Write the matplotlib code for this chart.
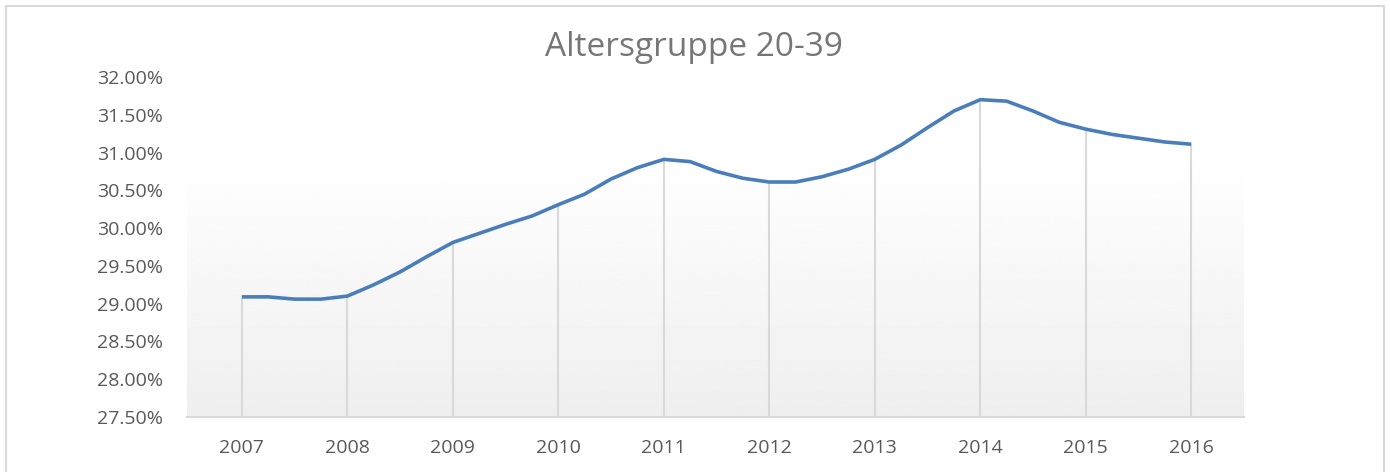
import numpy as np
import matplotlib
matplotlib.use("Agg")
import matplotlib.pyplot as plt
from matplotlib.patches import Rectangle
from matplotlib.ticker import FuncFormatter

# quarterly values (percent)
quarters = np.arange(2007.0, 2016.01, 0.25)
share = [29.09, 29.09, 29.06, 29.06,
         29.10, 29.25, 29.42, 29.62,
         29.81, 29.93, 30.05, 30.16,
         30.31, 30.45, 30.65, 30.80,
         30.91, 30.88, 30.75, 30.66,
         30.61, 30.61, 30.68, 30.78,
         30.91, 31.10, 31.33, 31.55,
         31.70, 31.68, 31.55, 31.40,
         31.31, 31.24, 31.19, 31.14,
         31.11]
years = list(range(2007, 2017))
title = "Altersgruppe 20-39"

plt.rcParams['font.family'] = ['Open Sans', 'DejaVu Sans']

W, H = 1390, 472
fig = plt.figure(figsize=(W / 100, H / 100), dpi=100)
ax = fig.add_axes([187 / W, 1 - 417 / H, (1244 - 187) / W, (417 - 77) / H])

ax.set_xlim(2006.48, 2016.5)
ax.set_ylim(27.5, 32.0)

# gradient backdrop below the 31% level
grad = np.linspace(0.935, 1.0, 256).reshape(-1, 1)
ax.imshow(grad, cmap='gray', vmin=0, vmax=1, aspect='auto', origin='lower',
          extent=(2006.48, 2016.5, 27.5, 31.0), zorder=0)

# drop lines at each year
year_vals = [share[list(quarters).index(float(y))] for y in years]
ax.vlines(years, 27.5, year_vals, color='#d9d9d9', lw=1.5, zorder=1)

ax.plot(quarters, share, color='#4a7ebb', lw=2.6, zorder=3,
        solid_joinstyle='round', solid_capstyle='butt')

for s in ['top', 'right', 'left']:
    ax.spines[s].set_visible(False)
ax.spines['bottom'].set_color('#d9d9d9')
ax.spines['bottom'].set_linewidth(1.5)
ax.patch.set_alpha(0)

ax.set_yticks(np.arange(27.5, 32.01, 0.5))
ax.yaxis.set_major_formatter(FuncFormatter(lambda v, p: f"{v:.2f}%"))
ax.set_xticks(years)
ax.tick_params(axis='both', length=0, labelsize=14, colors='#595959')
ax.tick_params(axis='y', pad=17)
ax.tick_params(axis='x', pad=16)

fig.text(694 / W, 1 - 48 / H, title, ha='center', va='center',
         fontsize=24, color='#767676')

fig.patches.append(Rectangle((6 / W, -0.2), 1378 / W, 1.2 - 6 / H,
                             transform=fig.transFigure, fill=False,
                             edgecolor='#d9d9d9', lw=1.5))

fig.savefig('out.png', dpi=100)
